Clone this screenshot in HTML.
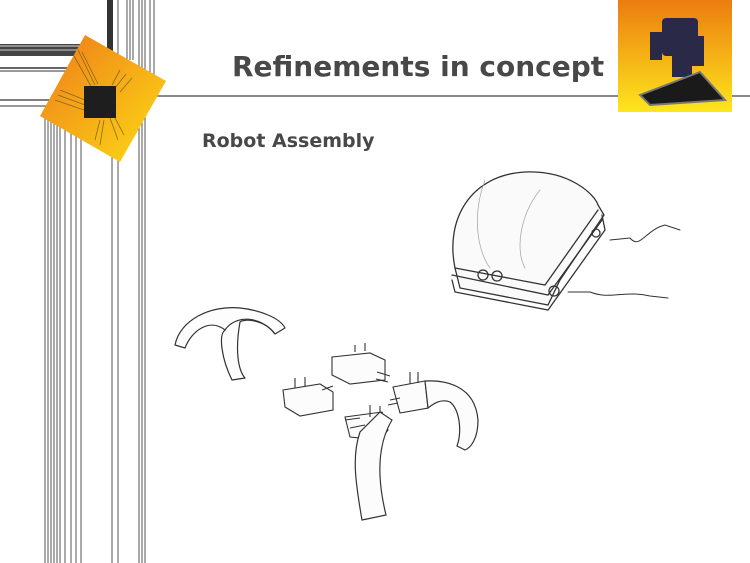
<!DOCTYPE html>
<html><head><meta charset="utf-8"><style>
html,body{margin:0;padding:0;background:#fff;}
#c{position:relative;width:750px;height:563px;overflow:hidden;font-family:"DejaVu Sans","Liberation Sans",sans-serif;}
.t{position:absolute;color:#484848;font-weight:bold;white-space:nowrap;}
</style></head><body><div id="c">
<svg width="750" height="563" style="position:absolute;left:0;top:0">
<defs>
<linearGradient id="og" x1="0" y1="0" x2="1" y2="1"><stop offset="0" stop-color="#ee7a1a"/><stop offset="1" stop-color="#fddc14"/></linearGradient>
<linearGradient id="rg" x1="0" y1="0" x2="0" y2="1"><stop offset="0" stop-color="#ec7c10"/><stop offset="1" stop-color="#fde61c"/></linearGradient>
</defs>
<g stroke="#333" fill="none">
<rect x="0" y="44" width="80" height="12" fill="#444" stroke="none"/>
<line x1="0" y1="46" x2="80" y2="46" stroke="#ddd"/><line x1="0" y1="50" x2="80" y2="50" stroke="#ccc"/>
<line x1="0" y1="68" x2="70" y2="68" stroke-width="1.5"/><line x1="0" y1="71" x2="70" y2="71"/>
<line x1="0" y1="100" x2="50" y2="100" stroke-width="1.2"/><line x1="0" y1="106" x2="50" y2="106"/>
<line x1="155" y1="96" x2="750" y2="96" stroke="#444" stroke-width="1.3"/>
</g>
<g stroke="#2a2a2a" stroke-width="0.8">
<line x1="45" y1="110" x2="45" y2="563"/><line x1="48" y1="110" x2="48" y2="563"/><line x1="51" y1="110" x2="51" y2="563"/>
<line x1="54" y1="110" x2="54" y2="563"/><line x1="57" y1="110" x2="57" y2="563"/><line x1="60" y1="110" x2="60" y2="563"/>
<line x1="65" y1="110" x2="65" y2="563"/>
<line x1="71" y1="120" x2="71" y2="563"/><line x1="76" y1="120" x2="76" y2="563"/><line x1="81" y1="120" x2="81" y2="563"/>
<line x1="112" y1="0" x2="112" y2="563"/><line x1="118" y1="0" x2="118" y2="563"/>
<line x1="139" y1="0" x2="139" y2="563"/><line x1="142" y1="0" x2="142" y2="563"/><line x1="145" y1="0" x2="145" y2="563"/>
<line x1="127" y1="0" x2="127" y2="60"/><line x1="130" y1="0" x2="130" y2="60"/><line x1="133" y1="0" x2="133" y2="60"/>
<line x1="150" y1="0" x2="150" y2="80"/><line x1="154" y1="0" x2="154" y2="80"/>
</g>
<rect x="107" y="0" width="6" height="60" fill="#333"/>
<polygon points="85,35 166,81 120,162 40,116" fill="url(#og)"/>
<g stroke="#6a5a20" stroke-width="0.8" fill="none" opacity="0.8">
<path d="M78,50 L95,85 M82,52 L98,84 M74,56 L92,88 M60,90 L85,100 M58,95 L85,105 M55,100 L84,110 M120,70 L112,85 M126,74 L115,88 M132,78 L120,92 M100,120 L95,140 M104,120 L100,145 M110,118 L118,140 M114,116 L124,135"/>
</g>
<rect x="84" y="86" width="32" height="32" fill="#1e1e1e"/>
<rect x="618" y="0" width="114" height="112" fill="url(#rg)"/>
<g fill="#2a2a48">
<rect x="662" y="18" width="36" height="38" rx="4"/>
<rect x="650" y="32" width="12" height="28"/>
<rect x="692" y="36" width="12" height="30"/>
<rect x="672" y="55" width="20" height="22"/>
<polygon points="640,95 700,72 725,100 650,105" fill="#1a1a1a"/>
</g>
<polygon points="640,95 700,72 725,100 650,105" fill="none" stroke="#777" stroke-width="2"/>
<g stroke="#333" stroke-width="1.3" fill="none" stroke-linecap="round">
<path d="M455,268 C445,220 470,175 525,172 C570,170 595,195 598,205 L604,215 L560,280 L548,305 L460,288 Z" fill="#fafafa"/>
<path d="M455,268 L545,285 L598,210"/>
<path d="M452,275 L548,295 L602,220"/>
<path d="M452,280 L455,292 L548,310 L605,230 L602,215"/>
<circle cx="483" cy="275" r="5"/><circle cx="497" cy="276" r="5"/>
<circle cx="554" cy="291" r="5"/><circle cx="596" cy="233" r="4"/>
<path d="M485,180 C470,220 480,255 490,268 M540,190 C520,215 515,250 525,268" stroke="#aaa" stroke-width="0.8"/>
<path d="M610,240 L630,238 M630,238 C640,250 645,230 665,225 L680,230" stroke-width="1"/>
<path d="M568,292 L590,292 C610,300 625,290 650,296 L668,298" stroke-width="1"/>
</g>
<g stroke="#333" stroke-width="1.2" fill="#fdfdfd" stroke-linejoin="round">
<path d="M175,345 C180,320 210,305 240,308 C260,310 280,318 285,328 L275,334 C265,320 245,318 240,322 C235,350 238,370 245,378 L232,380 C222,360 218,335 225,330 C210,318 192,330 185,348 Z"/>
<path d="M225,330 C235,315 260,315 275,334" fill="none"/>
</g>
<g stroke="#333" stroke-width="1.1" fill="#fcfcfc">
<polygon points="332,357 370,353 385,360 385,380 350,384 332,375"/>
<polygon points="283,390 320,384 333,392 333,410 300,416 285,407"/>
<polygon points="393,387 425,381 428,408 400,413"/>
<polygon points="345,417 382,412 388,430 380,440 350,437"/>
</g>
<g stroke="#333" stroke-width="1.1" fill="none">
<path d="M355,352 V345 M365,351 V343 M377,372 L390,376 M376,379 L388,382 M295,388 V378 M305,386 V377 M322,390 L333,386 M410,384 V372 M418,383 V372 M390,400 L400,398 M388,405 L398,403 M345,420 L360,418 M350,428 L365,425 M370,417 V405 M380,416 V406"/>
</g>
<path d="M425,381 C445,380 475,385 478,420 C478,440 470,448 465,450 L457,446 C462,432 460,410 450,402 C440,398 432,405 428,408 Z" fill="#fcfcfc" stroke="#333" stroke-width="1.2"/>
<path d="M380,412 L392,420 C380,440 375,470 386,515 L362,520 C355,480 352,455 360,432 Z" fill="#fcfcfc" stroke="#333" stroke-width="1.2"/>
</svg>
<div class="t" style="left:232px;top:50px;font-size:28px;">Refinements in concept</div>
<div class="t" style="left:202px;top:130px;font-size:19px;">Robot Assembly</div>
</div></body></html>
